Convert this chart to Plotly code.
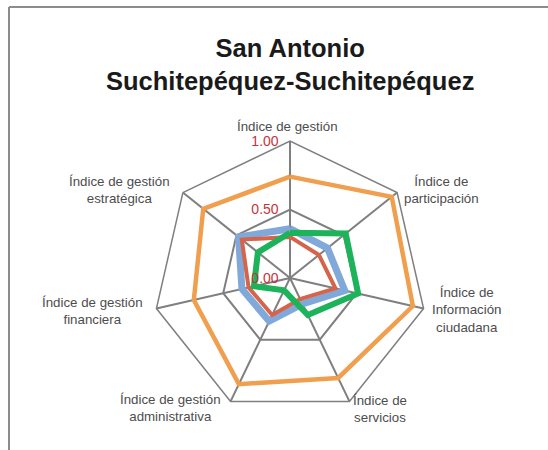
import plotly.graph_objects as go

categories = [
    "Índice de gestión",
    "Índice de<br>participación",
    "Índice de<br>Información<br>ciudadana",
    "Índice de<br>servicios",
    "Índice de gestión<br>administrativa",
    "Índice de gestión<br>financiera",
    "Índice de gestión<br>estratégica",
]
orange_vals = [0.74, 0.95, 0.92, 0.81, 0.86, 0.72, 0.81]
blue_vals = [0.36, 0.35, 0.41, 0.21, 0.35, 0.36, 0.48]
red_vals = [0.30, 0.27, 0.34, 0.17, 0.30, 0.31, 0.45]
green_vals = [0.33, 0.52, 0.51, 0.30, 0.10, 0.27, 0.30]
tick_vals = [0.0, 0.5, 1.0]
tick_text = ["0.00", "0.50", "1.00"]
title_text = "<b>San Antonio<br>Suchitepéquez-Suchitepéquez</b>"

series = [
    ("Serie 1", orange_vals, "#F09F4E", 4.5),
    ("Serie 2", blue_vals, "#80A9DA", 7),
    ("Serie 3", red_vals, "#D6644A", 4),
    ("Serie 4", green_vals, "#1DB35B", 6),
]

fig = go.Figure()
for name, vals, color, w in series:
    fig.add_trace(go.Scatterpolar(
        r=vals + vals[:1],
        theta=categories + categories[:1],
        mode="lines",
        name=name,
        line=dict(color=color, width=w),
        showlegend=False,
    ))

W, H = 548, 450
cx, cy, R = 290, 278, 137

# label block centres (pixels) for the category labels
label_pos = [(287, 127), (441, 189.5), (466, 310), (380, 409),
             (170, 408), (92, 311), (119.5, 189.5)]

annotations = []
for text, (px, py) in zip(categories, label_pos):
    annotations.append(dict(
        text=text, xref="paper", yref="paper",
        x=px / W, y=1 - py / H, xanchor="center", yanchor="middle",
        align="center", showarrow=False,
        font=dict(family="Liberation Sans, Arial, sans-serif", size=13.3,
                  color="#4d4d4d"),
    ))
annotations.append(dict(
    text=title_text, xref="paper", yref="paper",
    x=290 / W, y=1 - 64 / H, xanchor="center", yanchor="middle",
    align="center", showarrow=False,
    font=dict(size=25.5, color="#1a1a1a", family="Liberation Sans, Arial, sans-serif"),
))

fig.update_layout(
    width=W, height=H,
    margin=dict(l=0, r=0, t=0, b=0),
    paper_bgcolor="white",
    plot_bgcolor="white",
    font=dict(family="Liberation Sans, Arial, sans-serif", color="#555555", size=13),
    polar=dict(
        domain=dict(x=[(cx - R) / W, (cx + R) / W], y=[(H - cy - R) / H, (H - cy + R) / H]),
        bgcolor="white",
        gridshape="linear",
        angularaxis=dict(
            direction="clockwise",
            rotation=90,
            showline=True,
            linecolor="#7f7f7f",
            linewidth=1.5,
            gridcolor="#7f7f7f",
            gridwidth=1.5,
            ticks="",
            showticklabels=False,
        ),
        radialaxis=dict(
            range=[0, 1],
            tickvals=tick_vals,
            ticktext=tick_text,
            showline=False,
            gridcolor="#7f7f7f",
            gridwidth=1.5,
            ticks="outside",
            ticklen=6,
            tickcolor="rgba(0,0,0,0)",
            angle=90,
            tickangle=90,
            side="counterclockwise",
            tickfont=dict(size=14, color="#C8323C"),
        ),
    ),
    annotations=annotations,
    shapes=[
        dict(type="line", xref="paper", yref="paper",
             x0=9 / W, x1=1, y0=1 - 7 / H, y1=1 - 7 / H,
             line=dict(color="#8c8c8c", width=2)),
        dict(type="line", xref="paper", yref="paper",
             x0=9 / W, x1=9 / W, y0=0, y1=1 - 7 / H,
             line=dict(color="#8c8c8c", width=2)),
        dict(type="line", xref="paper", yref="paper",
             x0=500 / W, x1=500 / W, y0=1 - 308 / H, y1=1 - 314 / H,
             line=dict(color="#bbbbbb", width=1)),
    ],
)

fig.write_html("out.html", post_script="document.body.style.margin='0';",
               config={"displayModeBar": False})
